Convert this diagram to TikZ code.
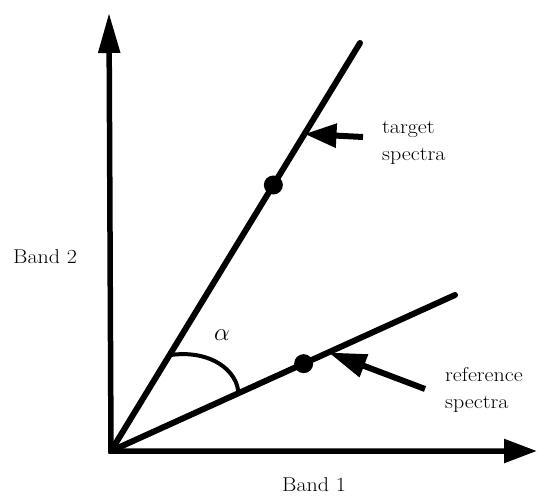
\documentclass[tikz,border=0pt]{standalone}
\usepackage{fontspec}
\setmainfont{Latin Modern Roman}[FakeStretch=1.1]
\usetikzlibrary{arrows.meta,calc}
\begin{document}
\begin{tikzpicture}[x=1pt,y=-1pt,
  axis/.style={line width=5.5pt,line join=miter},
  ray/.style={line width=6pt,line cap=round},
  pointer/.style={line width=6pt,-{Triangle[length=#1,width=23pt]}},
  dot/.style={circle,fill=black,inner sep=0pt,minimum size=19pt},
  lbl/.style={font=\fontsize{20}{27}\selectfont,inner sep=0pt,align=left}]
\useasboundingbox (0,0) rectangle (537,495);
\coordinate (O) at (111,451);
\coordinate (ytip) at (109,13);
\coordinate (xtip) at (537,451);
\coordinate (T) at (360,43);
\coordinate (R) at (455,295);
% axes
\draw[axis,{Triangle[length=40pt,width=21pt]}-{Triangle[length=33pt,width=23pt]}]
  (ytip) -- (O) -- (xtip);
% rays
\draw[ray] (O) -- (T);
\draw[ray] (O) -- (R);
% dots on rays
\path (O) -- (T) node[dot,pos=0.652] (tdot) {};
\path (O) -- (R) node[dot,pos=0.56] (rdot) {};
% angle arc
\coordinate (a1) at ($(O)!0.235!(T)$);
\coordinate (a2) at ($(O)!0.37!(R)$);
\draw[line width=4pt] (a1) .. controls (212,349) and (238,372) .. (a2);
\node[font=\fontsize{28}{30}\selectfont,inner sep=0pt] (alpha) at (222,335) {$\alpha$};
% pointers
\coordinate (ttail) at (363,137);
\coordinate (ttip) at ($(O)!0.777!(T)$);
\draw[pointer=32pt] (ttail) -- (ttip);
\coordinate (rtail) at (425,389);
\coordinate (rtip) at ($(O)!0.632!(R)$);
\draw[pointer=38pt] (rtail) -- (rtip);
% labels (base anchor = baseline of the last line)
\node[lbl,anchor=base west] (tlab) at (382,160) {target\\spectra};
\node[lbl,anchor=base west] (rlab) at (445,408) {reference\\spectra};
\node[lbl,anchor=base west] (band2) at (13,263) {Band 2};
\node[lbl,anchor=base west] (band1) at (282,491) {Band 1};
\end{tikzpicture}
\end{document}
